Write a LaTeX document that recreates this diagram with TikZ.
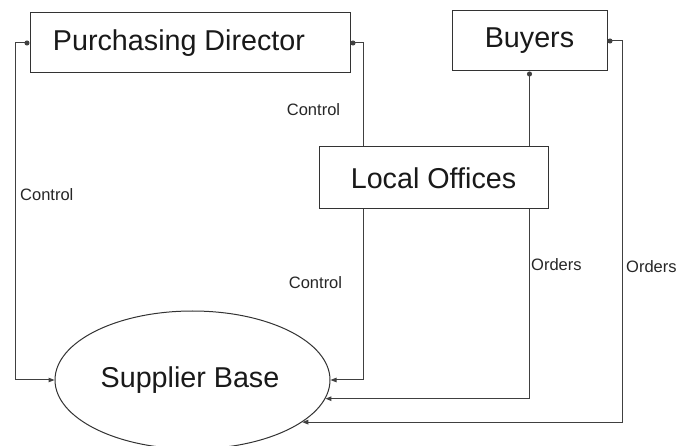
\documentclass[tikz,border=0pt]{standalone}
\usepackage{fontspec}
\setmainfont{Liberation Sans}
\usetikzlibrary{arrows.meta,shapes.geometric}

\tikzset{
  box/.style={draw=black!80, line width=1pt, fill=white, text=black!90,
      font=\fontsize{28.7}{32}\selectfont, inner sep=0pt},
  link/.style={draw=black!75, line width=1pt},
  dotfrom/.style={link, {Circle[length=5pt]}-},
  dotarrow/.style={link, {Circle[length=5pt]}-{Triangle[length=6pt,width=4.5pt]}},
  arrowto/.style={link, -{Triangle[length=6pt,width=4.5pt]}},
  tag/.style={text=black!85, font=\fontsize{16.5}{18}\selectfont, inner sep=0pt}
}

\begin{document}
\begin{tikzpicture}[x=1pt, y=-1pt]
  \useasboundingbox[fill=white] (0,0) rectangle (678,446);

  % boxes and the supplier ellipse
  \node[box, minimum width=320pt, minimum height=60pt] (pd)  at (190,43)    {Purchasing Director\hspace*{22pt}};
  \node[box, minimum width=155pt, minimum height=60pt] (buy) at (529.5,41)  {Buyers};
  \node[box, ellipse, minimum width=275pt, minimum height=138pt] (sb) at (192.5,380) {Supplier Base\hspace*{5pt}};

  % control lines from the purchasing director
  \draw[dotarrow] (pd.west) -- ++(-14,0) |- (sb.west);
  \draw[dotfrom] (pd.east) -- ++(13,0) coordinate (pdcol) -- (pdcol |- 0,147);

  % buyers down to the local offices
  \draw[dotfrom] (buy.south) -- (buy.south |- 0,147);

  % local offices sit over the vertical lines
  \node[box, minimum width=229pt, minimum height=62pt] (lo) at (433.5,178) {Local Offices};

  % lines from the local offices to the supplier base
  \draw[arrowto] (lo.south -| pdcol) |- (sb.east);
  \draw[arrowto] (lo.south -| buy.south) |- (sb.-8.7);

  % orders straight from the buyers
  \draw[dotarrow] (buy.east) -- ++(15,0) |- (sb.-21.1);

  % connector labels
  \node[tag, anchor=west] (c1) at (20,195)    {Control};
  \node[tag]              (c2) at (313.5,110) {Control};
  \node[tag]              (c3) at (315.5,283) {Control};
  \node[tag, anchor=west] (o1) at (531,265)   {Orders};
  \node[tag, anchor=west] (o2) at (626,267)   {Orders};
\end{tikzpicture}
\end{document}
